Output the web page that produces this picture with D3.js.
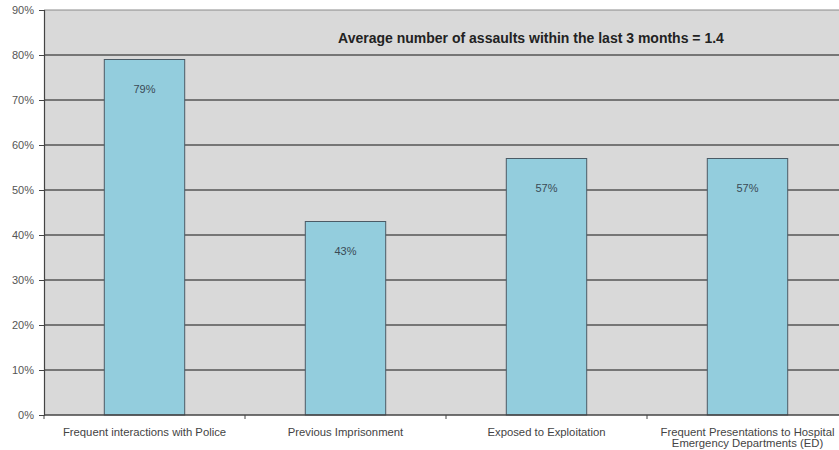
<!DOCTYPE html>
<html><head><meta charset="utf-8">
<script src="https://cdn.jsdelivr.net/npm/d3@7/dist/d3.min.js"></script>
<style>body{margin:0;background:#fff;}svg{display:block;font-family:"Liberation Sans",Arial,sans-serif;}</style>
</head><body><svg id="c" width="839" height="450"></svg>
<script>
const categories = ["Frequent interactions with Police", "Previous Imprisonment", "Exposed to Exploitation", "Frequent Presentations to Hospital\nEmergency Departments (ED)"];
const values = [79, 43, 57, 57];
const yTicks = [0, 10, 20, 30, 40, 50, 60, 70, 80, 90];
const note = "Average number of assaults within the last 3 months = 1.4";

const svg = d3.select("#c");
const m = {left: 44, top: 10, right: 848, bottom: 415};
const x = d3.scaleBand().domain(categories).range([m.left, m.right]).paddingInner(0.6).paddingOuter(0.3);
const y = d3.scaleLinear().domain([0, 90]).range([m.bottom, m.top]);

svg.append("rect").attr("x", m.left).attr("y", m.top).attr("width", m.right - m.left).attr("height", m.bottom - m.top).attr("fill", "#d9d9d9");

// gridlines
svg.append("g").selectAll("line").data(yTicks.filter(d => d > 0)).join("line")
  .attr("x1", m.left).attr("x2", m.right).attr("y1", d => y(d)).attr("y2", d => y(d))
  .attr("stroke", d => d === 90 ? "#8a8a8a" : "#555").attr("stroke-width", d => d === 90 ? 1 : 1.5);

// bars
svg.append("g").selectAll("rect").data(values).join("rect")
  .attr("x", (d, i) => x(categories[i])).attr("width", x.bandwidth())
  .attr("y", d => y(d)).attr("height", d => y(0) - y(d))
  .attr("fill", "#93cddd").attr("stroke", "#4b5b66").attr("stroke-width", 1);

svg.append("g").selectAll("text").data(values).join("text")
  .attr("x", (d, i) => x(categories[i]) + x.bandwidth() / 2).attr("y", d => y(d) + 33)
  .attr("text-anchor", "middle").attr("font-size", 11).attr("fill", "#3a4a55")
  .text(d => d + "%");

// y axis
const yAxis = d3.axisLeft(y).tickValues(yTicks).tickFormat(d => d + "%").tickSize(5).tickPadding(5);
const gy = svg.append("g").attr("transform", `translate(${m.left},0)`).call(yAxis);
gy.select(".domain").attr("stroke", "#444").attr("stroke-width", 1.2);
gy.selectAll(".tick line").attr("stroke", "#444");
gy.selectAll(".tick text").attr("font-size", 11).attr("fill", "#555").attr("font-family", "Liberation Sans, Arial, sans-serif");

// x axis
const gx = svg.append("g").attr("transform", `translate(0,${m.bottom})`);
gx.append("line").attr("x1", m.left).attr("x2", m.right).attr("stroke", "#444").attr("stroke-width", 1.5);
const cw = (m.right - m.left) / categories.length;
const bounds = d3.range(categories.length + 1).map(i => m.left + i * cw);
gx.selectAll("line.t").data(bounds).join("line").attr("class", "t")
  .attr("x1", d => d).attr("x2", d => d).attr("y1", 0).attr("y2", 4).attr("stroke", "#444");
gx.selectAll("text").data(categories).join("text")
  .attr("text-anchor", "middle").attr("font-size", 11.3).attr("fill", "#444")
  .attr("transform", (d, i) => `translate(${m.left + cw * (i + 0.5)},21)`)
  .each(function(d) {
    const lines = d.split("\n");
    d3.select(this).selectAll("tspan").data(lines).join("tspan")
      .attr("x", 0).attr("dy", (l, j) => j === 0 ? 0 : 11).text(l => l);
  });

svg.append("text").attr("x", 531).attr("y", 43).attr("text-anchor", "middle")
  .attr("font-size", 14).attr("font-weight", "bold").attr("fill", "#222").text(note);
</script></body></html>
